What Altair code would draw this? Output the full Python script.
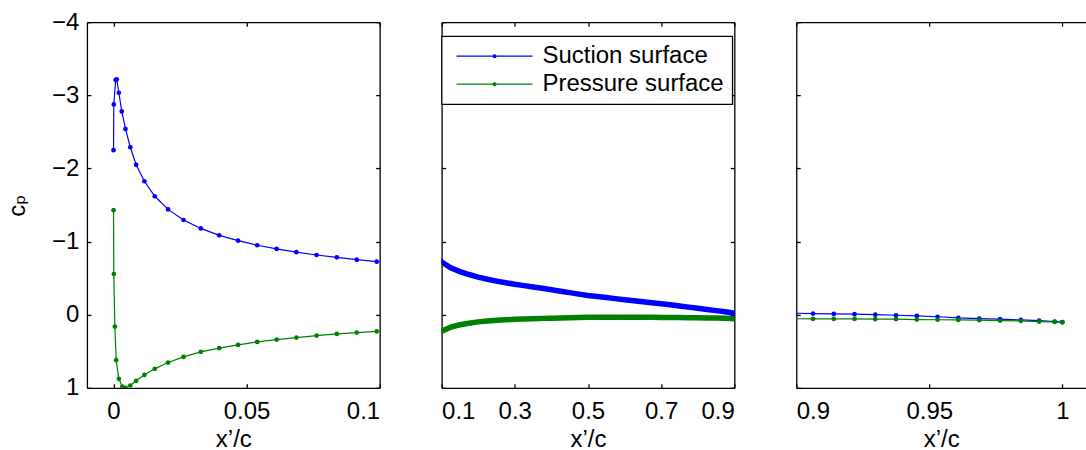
import altair as alt
import pandas as pd

# ---------------- data ----------------
SURFACES = ["Suction surface", "Pressure surface"]
COLORS = ["#0000ff", "#008000"]

# leading-edge region (panel 1)
x_suction_le = [0, 0.0001, 0.0008, 0.0012, 0.002, 0.0031, 0.0045, 0.0063, 0.0085,
                0.0116, 0.0155, 0.0205, 0.0263, 0.0328, 0.0397, 0.0468, 0.054,
                0.0613, 0.0687, 0.0763, 0.0839, 0.0914, 0.0989]
cp_suction_le = [-2.25, -2.875, -3.21, -3.22, -3.035, -2.78, -2.54, -2.29, -2.05,
                 -1.825, -1.62, -1.44, -1.295, -1.18, -1.085, -1.013, -0.95,
                 -0.9, -0.855, -0.817, -0.785, -0.753, -0.725]
x_pressure_le = [0, 0.0001, 0.0005, 0.001, 0.002, 0.0033, 0.0045, 0.0063, 0.0085,
                 0.0116, 0.0155, 0.0205, 0.0263, 0.0328, 0.0397, 0.0468, 0.054,
                 0.0613, 0.0687, 0.0763, 0.0839, 0.0914, 0.0989]
cp_pressure_le = [-1.43, -0.557, 0.162, 0.622, 0.877, 0.982, 1.0, 0.968, 0.904,
                  0.822, 0.74, 0.654, 0.577, 0.508, 0.458, 0.413, 0.372,
                  0.34, 0.313, 0.285, 0.262, 0.244, 0.228]

# mid-chord region (panel 2)
x_mid = [0.125, 0.15, 0.175, 0.2, 0.225, 0.25, 0.275, 0.3, 0.325, 0.35, 0.375,
         0.4, 0.425, 0.45, 0.475, 0.5, 0.525, 0.55, 0.575, 0.6, 0.625, 0.65,
         0.675, 0.7, 0.725, 0.75, 0.775, 0.8, 0.825, 0.85, 0.875]
cp_suction_mid = [-0.64, -0.59, -0.55, -0.515, -0.485, -0.46, -0.437, -0.416,
                  -0.398, -0.38, -0.362, -0.342, -0.322, -0.302, -0.282, -0.262,
                  -0.248, -0.234, -0.22, -0.206, -0.192, -0.178, -0.164, -0.15,
                  -0.135, -0.12, -0.104, -0.088, -0.072, -0.056, -0.04]
cp_pressure_mid = [0.17, 0.138, 0.116, 0.098, 0.085, 0.076, 0.069, 0.063, 0.058,
                   0.054, 0.05, 0.047, 0.044, 0.041, 0.038, 0.036, 0.035, 0.034,
                   0.034, 0.034, 0.034, 0.035, 0.036, 0.037, 0.038, 0.039, 0.04,
                   0.042, 0.044, 0.046, 0.049]

# trailing-edge region (panel 3)
x_te = [0.9063, 0.9141, 0.9219, 0.9297, 0.9375, 0.9453, 0.9531, 0.9609, 0.9688,
        0.9766, 0.9844, 0.9913, 0.9971, 1.0]
cp_suction_te = [-0.015, -0.011, -0.007, -0.001, 0.007, 0.016, 0.028, 0.044,
                 0.053, 0.061, 0.071, 0.08, 0.094, 0.102]
cp_pressure_te = [0.057, 0.057, 0.057, 0.061, 0.061, 0.067, 0.069, 0.071, 0.075,
                  0.08, 0.085, 0.094, 0.098, 0.102]

Y_TICKS = [-4, -3, -2, -1, 0, 1]
X_TICKS_1 = [0, 0.05, 0.1]
X_TICKS_2 = [0.1, 0.3, 0.5, 0.7, 0.9]
X_TICKS_3 = [0.9, 0.95, 1]

# ---------------- table ----------------
xs_s = x_suction_le + x_mid + x_te
cp_s = cp_suction_le + cp_suction_mid + cp_suction_te
xs_p = x_pressure_le + x_mid + x_te
cp_p = cp_pressure_le + cp_pressure_mid + cp_pressure_te
df = pd.concat([
    pd.DataFrame({"x": xs_s, "cp": cp_s, "surface": SURFACES[0], "idx": range(len(xs_s))}),
    pd.DataFrame({"x": xs_p, "cp": cp_p, "surface": SURFACES[1], "idx": range(len(xs_p))}),
], ignore_index=True)

FONT = "Liberation Sans, Arial, Helvetica, DejaVu Sans, sans-serif"
H = 366
# legend glyph: a line with a dot in the middle (unit box scaled by sqrt(size)/2)
LEGEND_PATH = ("M-3.8,0H3.8M0.14,0A0.14,0.14,0,1,1,-0.14,0"
               "A0.14,0.14,0,1,1,0.14,0")


def panel(xdom, xticks, width, band=False, ylabels=False, legend=False, right_edge=True):
    xs = alt.Scale(domain=xdom, nice=False, zero=False)
    ys = alt.Scale(domain=[-4, 1], reverse=True, nice=False, zero=False)
    cs = alt.Scale(domain=SURFACES, range=COLORS)
    base = alt.Chart(df)

    if legend:
        leg = alt.Legend(orient="none", legendX=0, legendY=14, title=None,
                         symbolType=LEGEND_PATH, symbolSize=400,
                         symbolStrokeWidth=1.2, labelFont=FONT, labelFontSize=24,
                         labelColor="black", labelLimit=400, padding=8,
                         rowPadding=4, symbolOffset=33, labelOffset=36,
                         strokeColor="black", fillColor="white")
    else:
        leg = None
    color = alt.Color("surface:N", scale=cs, legend=leg)

    # layer 1: thin line, carries labelled axes and left/bottom frame
    y_kw = dict(orient="left", values=Y_TICKS, format="~g", ticks=False, tickSize=0,
                domain=True, labels=ylabels, labelPadding=8)
    if ylabels:
        y_kw.update(title="c\u209a", titlePadding=22)
    else:
        y_kw.update(title=None)
    line = base.mark_line(strokeWidth=1.2, clip=True).encode(
        x=alt.X("x:Q", scale=xs, axis=alt.Axis(
            orient="bottom", values=xticks, format="~g", title="x\u2019/c",
            ticks=False, tickSize=0, labelPadding=12, titlePadding=4, domain=True)),
        y=alt.Y("cp:Q", scale=ys, axis=alt.Axis(**y_kw)),
        color=color,
        order="idx:Q",
    )
    # layer 2: markers, carries inward ticks on bottom and left edges
    pts = base.mark_circle(size=22, opacity=1, clip=True).encode(
        x=alt.X("x:Q", scale=xs, axis=alt.Axis(
            orient="top", offset=-H, values=xticks, labels=False, domain=False,
            tickSize=4, title=None)),
        y=alt.Y("cp:Q", scale=ys, axis=alt.Axis(
            orient="right", offset=-width, values=Y_TICKS, labels=False,
            domain=False, tickSize=4, title=None)),
        color=color,
    )
    # layer 3: dense band (panel 2) or hidden line; carries top/right frame
    if right_edge:
        y3 = alt.Y("cp:Q", scale=ys, axis=alt.Axis(
            orient="left", offset=-width, values=Y_TICKS, labels=False,
            domain=True, tickSize=4, title=None))
    else:
        y3 = alt.Y("cp:Q", scale=ys, axis=None)
    third = base.mark_line(strokeWidth=5.5 if band else 1.2,
                           strokeOpacity=1 if band else 0, clip=True).encode(
        x=alt.X("x:Q", scale=xs, axis=alt.Axis(
            orient="bottom", offset=-H, values=xticks, labels=False, domain=True,
            tickSize=4, title=None)),
        y=y3,
        color=color,
        order="idx:Q",
    )
    return (alt.layer(line, pts, third)
            .resolve_axis(x="independent", y="independent")
            .properties(width=width, height=H))


p1 = panel([-0.01, 0.1], X_TICKS_1, 293, ylabels=True)
p2 = panel([0.1, 0.9], X_TICKS_2, 293, band=True, legend=True)
p3 = panel([0.9, 1.0089], X_TICKS_3, 290, right_edge=False)

chart = (alt.hconcat(p1, p2, p3, spacing=62, bounds="flush")
         .resolve_scale(color="independent")
         .resolve_legend(color="independent")
         .properties(padding={"left": 5, "top": 10, "right": 0, "bottom": 0},
                     background="white")
         .configure_view(strokeWidth=0)
         .configure_axis(grid=False, labelFont=FONT, labelFontSize=24,
                         labelColor="black", titleFont=FONT, titleFontSize=24,
                         titleFontWeight="normal", titleColor="black",
                         domainColor="black", domainWidth=1.3,
                         tickColor="black", tickWidth=1.3)
         .configure_legend(strokeWidth=1.3))

chart.save("out.html", embed_options={"renderer": "svg", "actions": False})
